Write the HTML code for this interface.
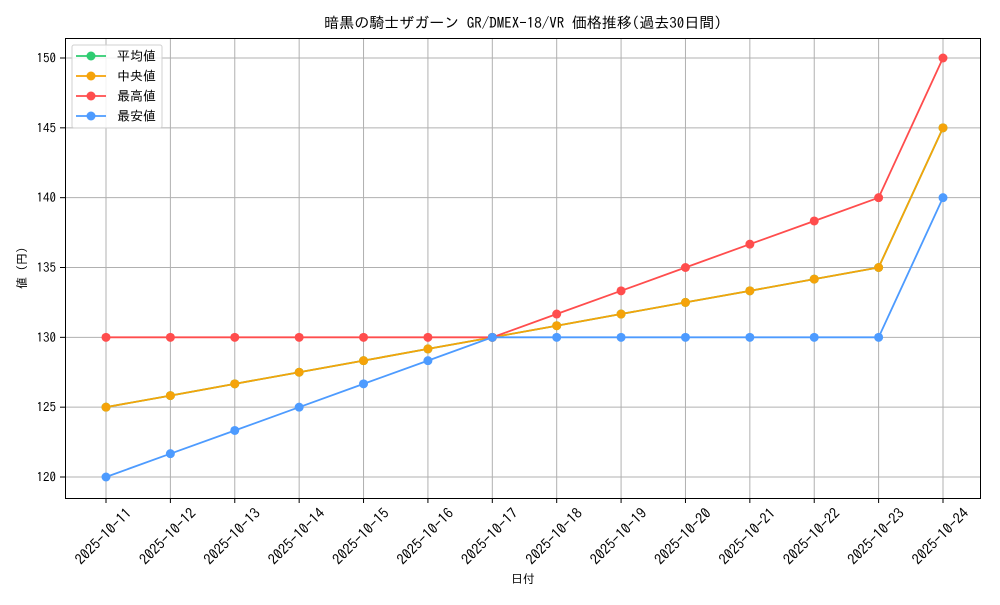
<!DOCTYPE html>
<html><head><meta charset="utf-8"><style>
body{margin:0;background:#fff}
svg{font-family:"IPAGothic","Liberation Sans","Noto Sans CJK JP",sans-serif}
</style></head><body>
<svg id="chart" width="1000" height="600" xmlns="http://www.w3.org/2000/svg">
<text x="523" y="28" font-size="15" text-anchor="middle">暗黒の騎士ザガーン GR/DMEX-18/VR 価格推移(過去30日間)</text>
<g id="grid"></g>
<g id="series"></g>
<rect x="65.5" y="38.5" width="915" height="460" fill="none" stroke="#000" stroke-width="1"/>
<g id="ticks"></g>
<text x="523" y="583" font-size="12" text-anchor="middle">日付</text>
<text transform="translate(26,268) rotate(-90)" font-size="12" text-anchor="middle">値 (円)</text>
<g id="legend"></g>
</svg>
<script>
const categories=["2025-10-11","2025-10-12","2025-10-13","2025-10-14","2025-10-15","2025-10-16","2025-10-17","2025-10-18","2025-10-19","2025-10-20","2025-10-21","2025-10-22","2025-10-23","2025-10-24"];
const meanValues=[125,125.83,126.67,127.5,128.33,129.17,130,130.83,131.67,132.5,133.33,134.17,135,145];
const medianValues=[125,125.83,126.67,127.5,128.33,129.17,130,130.83,131.67,132.5,133.33,134.17,135,145];
const maxValues=[130,130,130,130,130,130,130,131.67,133.33,135,136.67,138.33,140,150];
const minValues=[120,121.67,123.33,125,126.67,128.33,130,130,130,130,130,130,130,140];
const yTicks=[120,125,130,135,140,145,150];
const seriesNames=["平均値","中央値","最高値","最安値"];
const NS="http://www.w3.org/2000/svg";
function x(i){return 106+i*(943-106)/(categories.length-1);}
function y(v){return 477-(v-120)*(477-58)/30;}
function mk(tag,attrs,parent){const e=document.createElementNS(NS,tag);for(const k in attrs)e.setAttribute(k,attrs[k]);parent.appendChild(e);return e;}
const grid=document.getElementById('grid'),ticks=document.getElementById('ticks'),ser=document.getElementById('series'),leg=document.getElementById('legend');
categories.forEach((c,i)=>{
 const g=mk('line',{x1:x(i),x2:x(i),y1:38,y2:498,stroke:'#b0b0b0','stroke-width':1},grid);
 
 
 const t=mk('line',{x1:x(i),x2:x(i),y1:498,y2:503,stroke:'#000'},ticks);
 
 
 const l=mk('text',{'font-size':14.5,'text-anchor':'middle','dominant-baseline':'central',transform:`translate(${x(i)-3},${536}) rotate(-45)`},ticks);
 l.textContent=c;
 
 
});
yTicks.forEach(v=>{
 const g=mk('line',{x1:65,x2:980,y1:y(v),y2:y(v),stroke:'#b0b0b0','stroke-width':1},grid);
 
 
 const t=mk('line',{x1:60,x2:65,y1:y(v),y2:y(v),stroke:'#000'},ticks);
 
 
 const l=mk('text',{x:56,y:y(v)+4.5,'font-size':13,'text-anchor':'end'},ticks);
 l.textContent=v;
 
 
});
const list=[[meanValues,'#2ecc71','mean'],[medianValues,'#f5a30a','median'],[maxValues,'#ff4d4d','max'],[minValues,'#4d9bff','min']];
list.forEach(([vals,col,nm])=>{
 const p=mk('polyline',{points:vals.map((v,i)=>x(i)+','+y(v)).join(' '),fill:'none',stroke:col,'stroke-width':1.8},ser);
 
 
 vals.forEach((v,i)=>{const c=mk('circle',{cx:x(i),cy:y(v),r:4.5,fill:col},ser);
  
  });
});
const box=mk('rect',{x:72,y:45,width:90,height:83,rx:2,fill:'#fff','fill-opacity':0.85,stroke:'#d0d0d0'},leg);


list.forEach(([v,col,nm],k)=>{
 const yy=56+k*20;
 const ln=mk('line',{x1:76,x2:106,y1:yy,y2:yy,stroke:col,'stroke-width':1.8},leg);
 
 
 const c=mk('circle',{cx:91,cy:yy,r:4.5,fill:col},leg);
 
 
 const t=mk('text',{x:117,y:yy+4.5,'font-size':13},leg);
 t.textContent=seriesNames[k];
 
 
});
</script>
</body></html>
